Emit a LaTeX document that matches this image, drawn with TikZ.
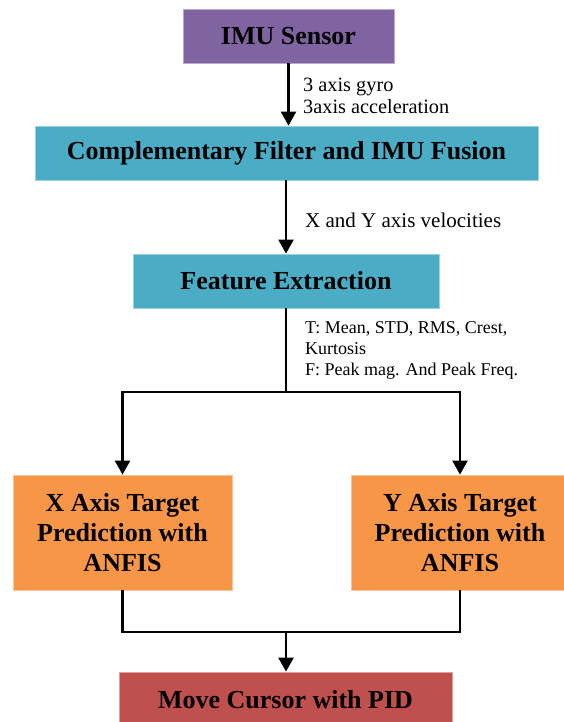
\documentclass[tikz,border=0pt]{standalone}
\usepackage{fontspec}
\setmainfont{Liberation Serif}
\usetikzlibrary{arrows.meta}
\definecolor{cpurple}{HTML}{8064A2}
\definecolor{cteal}{HTML}{4BACC6}
\definecolor{corange}{HTML}{F79646}
\definecolor{cred}{HTML}{C0504D}
\begin{document}
\begin{tikzpicture}[x=1pt,y=-1pt,
  box/.style={draw=#1!55!white, fill=#1, line width=0.8pt, inner sep=0pt, align=center,
    font=\fontsize{26}{30}\selectfont\bfseries, text=black},
  conn/.style={line width=2.4pt, -{Triangle[length=14pt,width=15pt]}},
  wire/.style={line width=2.4pt},
  lab/.style={anchor=west, align=left, font=\fontsize{20.3}{22}\selectfont, inner sep=0pt}]
\useasboundingbox (0,0) rectangle (564,722);
\clip (0,0) rectangle (564,722);
\node[box=cpurple, minimum width=211pt, minimum height=54pt] (imu) at (288.5,36) {IMU Sensor};
\node[box=cteal, minimum width=503pt, minimum height=54pt] (cf) at (286.5,153) {Complementary Filter and IMU Fusion};
\node[box=cteal, minimum width=306pt, minimum height=54pt] (fe) at (286,281) {Feature Extraction};
\node[box=corange, minimum width=219pt, minimum height=115pt] (xp) at (122.5,532.5) {X Axis Target\\Prediction with\\ANFIS};
\node[box=corange, minimum width=218pt, minimum height=115pt] (yp) at (460,532.5) {Y Axis Target\\Prediction with\\ANFIS};
\node[box=cred, minimum width=333pt, minimum height=56pt] (pid) at (285.5,700) {Move Cursor with PID};
\coordinate (split) at (286,392);
\coordinate (merge) at (286,632);
\draw[conn] (imu.south) -- (imu.south |- cf.north);
\draw[conn] (fe.north |- cf.south) -- (fe.north);
\draw[wire] (fe.south) -- (split);
\draw[conn] (split) -| (xp.north);
\draw[conn] (split) -| (yp.north);
\draw[wire] (xp.south) |- (merge) -| (yp.south);
\draw[conn] (merge) -- (merge |- pid.north);
\node[lab] (l1) at (303,96) {3 axis gyro\\3axis acceleration};
\node[lab, font=\fontsize{21}{22}\selectfont] (l2) at (305,220) {X and Y axis velocities};
\node[lab, font=\fontsize{18}{21}\selectfont] (l3) at (305,350) {T: Mean, STD, RMS, Crest,\\Kurtosis\\F: Peak mag. And Peak Freq.};
\end{tikzpicture}
\end{document}
